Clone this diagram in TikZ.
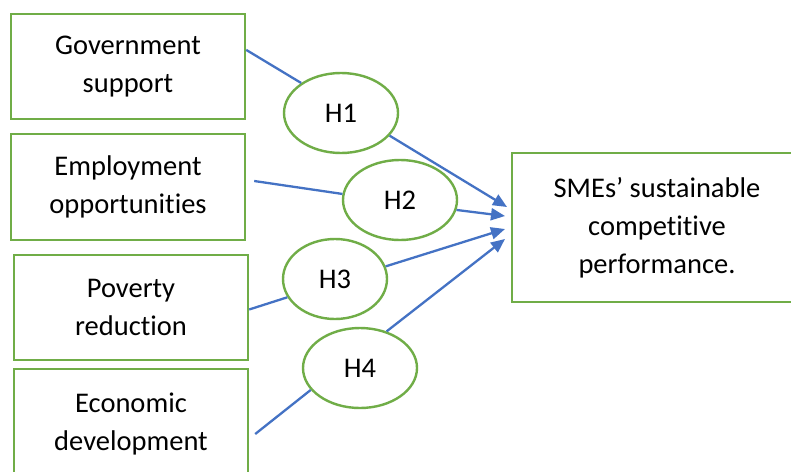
\documentclass[tikz,border=0pt]{standalone}
\usepackage{fontspec}
\setmainfont{Carlito}[RawFeature={-liga;-clig}]
\usetikzlibrary{shapes.geometric,arrows.meta}
\definecolor{grn}{HTML}{70AD47}
\definecolor{blu}{HTML}{4472C4}
\begin{document}
\begin{tikzpicture}[x=1pt,y=-1pt,
 boxnode/.style={draw=grn,line width=2.4pt,minimum width=234pt,inner sep=0pt,align=center,font=\fontsize{28.5}{38}\selectfont},
 hyp/.style={draw=grn,line width=2.4pt,ellipse,minimum width=114pt,minimum height=80pt,inner sep=0pt,font=\fontsize{28.5}{33}\selectfont},
 link/.style={draw=blu,line width=2.3pt},
 arr/.style={link,-{Triangle[length=14pt,width=12pt]}}]
\useasboundingbox (0,0) rectangle (791,471);
\fill[white] (0,0) rectangle (791,471);
\clip (0,0) rectangle (791,471);
\node[boxnode,minimum height=105pt] (b1) at (128,66.5) {Government\\support};
\node[boxnode,minimum height=106pt] (b2) at (128,187) {Employment\\opportunities};
\node[boxnode,minimum height=105pt] (b3) at (131,307.5) {Poverty\\reduction};
\node[boxnode,minimum height=110pt] (b4) at (131,424) {Economic\\development};
\node[boxnode,minimum width=290pt,minimum height=149pt] (tg) at (657,227.5) {SMEs’ sustainable\\competitive\\performance.};
\node[hyp] (h1) at (341,113) {H1};
\node[hyp] (h2) at (400,200) {H2};
\node[hyp,minimum width=104pt] (h3) at (335,279) {H3};
\node[hyp] (h4) at (360,368) {H4};
\coordinate (t1) at (507,207);
\coordinate (t2) at (505,216);
\coordinate (t3) at (505,229);
\coordinate (t4) at (505,239);
\draw[link] (b1.8) -- (h1.143);
\draw[link] ([shift={(8,-6)}]b2.east) -- (h2.174);
\draw[link] ([shift={(0,2)}]b3.east) -- (h3.201);
\draw[link] ([shift={(6,10)}]b4.east) -- (h4.204);
\draw[arr] (h1.-25.6) -- (t1);
\draw[arr] (h2.-10) -- (t2);
\draw[arr] (h3.14) -- (t3);
\draw[arr] (h4.54.6) -- (t4);
\end{tikzpicture}
\end{document}
